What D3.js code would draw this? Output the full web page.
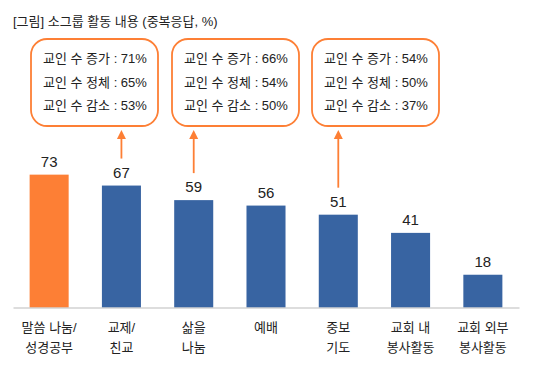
<!DOCTYPE html>
<html lang="ko">
<head>
<meta charset="UTF-8"/>
<title>소그룹 활동 내용</title>
<script src="https://d3js.org/d3.v7.min.js"></script>
<style>
	body { margin: 0; background: #fff; }
	text { font-family: "Liberation Sans", "Noto Sans CJK KR", sans-serif; fill: #222; }
</style>
</head>
<body>
<script>
	var w = 539;
	var h = 367;

	// categories (two lines each) and values
	var categories = [
		["말씀 나눔/", "성경공부"],
		["교제/", "친교"],
		["삶을", "나눔"],
		["예배"],
		["중보", "기도"],
		["교회 내", "봉사활동"],
		["교회 외부", "봉사활동"]
	];
	var values = [73, 67, 59, 56, 51, 41, 18];

	// callout boxes: which bar they point at, and their lines
	var noteBars = [1, 2, 4];
	var noteLabels = ["교인 수 증가", "교인 수 정체", "교인 수 감소"];
	var noteValues = [
		[71, 65, 53],
		[66, 54, 50],
		[54, 50, 37]
	];
	var noteBoxX = [31, 172, 312];

	var orange = "#fd7f35";
	var blue = "#3864a2";

	var xScale = d3.scaleBand()
		.domain(d3.range(values.length))
		.range([13, 519])
		.paddingInner(0.46)
		.paddingOuter(0.23);

	var yScale = d3.scaleLinear()
		.domain([0, 100])
		.range([307.5, 125.5]);

	var svg = d3.select("body")
		.append("svg")
		.attr("width", w)
		.attr("height", h);

	// title
	svg.append("text")
		.attr("x", 13)
		.attr("y", 26)
		.style("font-size", "13px")
		.text("[그림] 소그룹 활동 내용 (중복응답, %)");

	// bars
	svg.selectAll("rect.bar")
		.data(values)
		.enter()
		.append("rect")
		.attr("class", "bar")
		.attr("x", function(d, i){ return xScale(i); })
		.attr("y", function(d){ return yScale(d); })
		.attr("width", xScale.bandwidth())
		.attr("height", function(d){ return yScale(0) - yScale(d); })
		.attr("fill", function(d, i){ return i == 0 ? orange : blue; });

	// value labels
	svg.selectAll("text.val")
		.data(values)
		.enter()
		.append("text")
		.attr("class", "val")
		.attr("x", function(d, i){ return xScale(i) + xScale.bandwidth() / 2; })
		.attr("y", function(d){ return yScale(d) - 8; })
		.attr("text-anchor", "middle")
		.style("font-size", "15px")
		.text(function(d){ return d; });

	// x axis line + labels
	var xAxis = d3.axisBottom(xScale).tickSize(0).tickFormat("");
	var gx = svg.append("g")
		.attr("transform", "translate(0," + yScale(0) + ")")
		.call(xAxis);
	gx.select(".domain").attr("stroke", "#bbb").attr("stroke-width", 1.2);

	svg.selectAll("text.cat")
		.data(categories)
		.enter()
		.append("text")
		.attr("class", "cat")
		.attr("text-anchor", "middle")
		.style("font-size", "13px")
		.each(function(d, i){
			var t = d3.select(this);
			d.forEach(function(line, j){
				t.append("tspan")
					.attr("x", xScale(i) + xScale.bandwidth() / 2)
					.attr("y", 332 + j * 19.5)
					.text(line);
			});
		});

	// callouts
	noteBars.forEach(function(b, k){
		var cx = xScale(b) + xScale.bandwidth() / 2;
		var bx = noteBoxX[k];

		svg.append("rect")
			.attr("x", bx)
			.attr("y", 39)
			.attr("width", 127)
			.attr("height", 87)
			.attr("rx", 16)
			.attr("fill", "none")
			.attr("stroke", orange)
			.attr("stroke-width", 1.8);

		noteLabels.forEach(function(lab, j){
			svg.append("text")
				.attr("x", bx + 12)
				.attr("y", 63 + j * 23.5)
				.style("font-size", "13px")
				.text(lab + " : " + noteValues[k][j] + "%");
		});

		// arrow
		svg.append("line")
			.attr("x1", cx).attr("x2", cx)
			.attr("y1", 138)
			.attr("y2", yScale(values[b]) - 27)
			.attr("stroke", orange)
			.attr("stroke-width", 1.8);
		svg.append("path")
			.attr("d", "M" + (cx - 4.5) + ",139 L" + (cx + 4.5) + ",139 L" + cx + ",130 Z")
			.attr("fill", orange);
	});
</script>
</body>
</html>
